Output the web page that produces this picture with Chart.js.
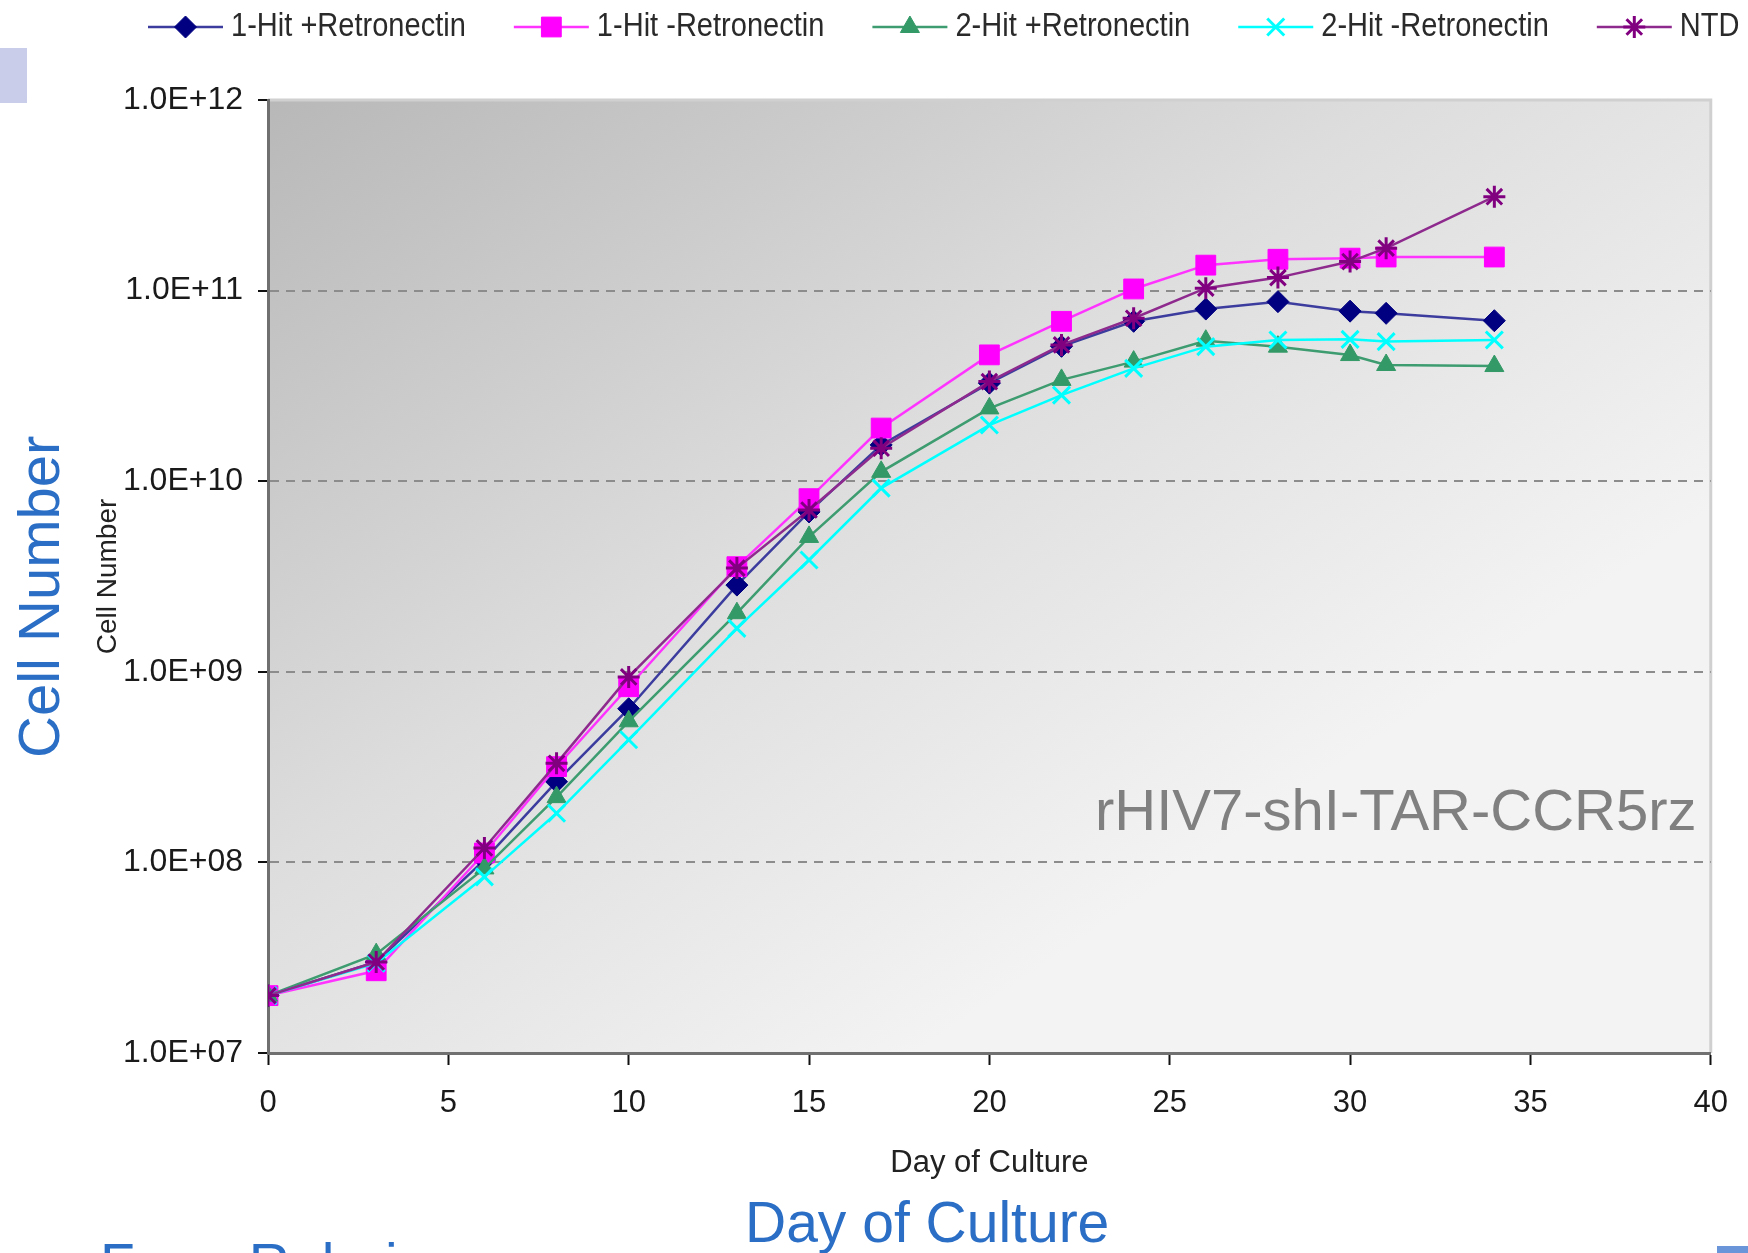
<!DOCTYPE html>
<html>
<head>
<meta charset="utf-8">
<title>Cell expansion by day of culture</title>
<script src="https://cdn.jsdelivr.net/npm/chart.js@4.4.1/dist/chart.umd.min.js"></script>
<style>
  html, body { margin: 0; padding: 0; background: #ffffff; }
  #wrap { position: relative; width: 1748px; height: 1253px; overflow: hidden; background: #ffffff; }
  #chart { position: absolute; left: 0; top: 0; }
  .note { position: absolute; font-family: 'Liberation Sans', Arial, sans-serif; white-space: nowrap; line-height: 1; }
  .blue { color: #2a6ec6; font-size: 57px; }
  #yBig { left: 10px; top: 758px; font-size: 58px; transform-origin: 0 0; transform: rotate(-90deg); }
  #xBig { left: 745px; top: 1194px; }
  #source { left: 100px; top: 1236px; }
  #construct { left: 1095px; top: 781px; font-size: 58px; color: #808080; }
  #tabTop { position: absolute; left: 0; top: 48px; width: 27px; height: 55px; background: #c9cdea; }
  #tabBottom { position: absolute; left: 1717px; top: 1246px; width: 31px; height: 7px; background: #6a95d8; }
</style>
</head>
<body>
<div id="wrap">
  <canvas id="chart" width="1748" height="1253"></canvas>
  <div id="tabTop"></div>
  <div id="tabBottom"></div>
  <div class="note blue" id="yBig">Cell Number</div>
  <div class="note blue" id="xBig">Day of Culture</div>
  <div class="note blue" id="source">From Rebeies</div>
  <div class="note" id="construct">rHIV7-shI-TAR-CCR5rz</div>
</div>
<script>
// Sampling days and total cell counts for each transduction condition
const days = [0, 3, 6, 8, 10, 13, 15, 17, 20, 22, 24, 26, 28, 30, 31, 34];

const oneHitPlusRetronectin  = [2.0e7, 3.0e7, 1.03e8, 2.65e8, 6.4e8, 2.85e9, 6.9e9, 1.55e10, 3.27e10, 5.1e10, 6.9e10, 8.0e10, 8.75e10, 7.8e10, 7.6e10, 6.95e10];
const oneHitMinusRetronectin = [2.0e7, 2.7e7, 1.12e8, 3.18e8, 8.35e8, 3.56e9, 8.1e9, 1.9e10, 4.6e10, 6.9e10, 1.02e11, 1.36e11, 1.46e11, 1.48e11, 1.5e11, 1.5e11];
const twoHitPlusRetronectin  = [2.0e7, 3.3e7, 9.3e7, 2.2e8, 5.5e8, 2.03e9, 5.1e9, 1.12e10, 2.41e10, 3.4e10, 4.24e10, 5.46e10, 5.08e10, 4.59e10, 4.07e10, 4.02e10];
const twoHitMinusRetronectin = [2.0e7, 2.96e7, 8.4e7, 1.81e8, 4.4e8, 1.69e9, 3.86e9, 9.2e9, 1.97e10, 2.83e10, 3.91e10, 5.08e10, 5.51e10, 5.55e10, 5.4e10, 5.51e10];
const ntd                    = [2.0e7, 3.0e7, 1.19e8, 3.31e8, 9.4e8, 3.5e9, 7.06e9, 1.49e10, 3.33e10, 5.19e10, 7.16e10, 1.03e11, 1.17e11, 1.42e11, 1.67e11, 3.11e11];

const seriesNames = ['1-Hit +Retronectin', '1-Hit -Retronectin', '2-Hit +Retronectin', '2-Hit -Retronectin', 'NTD'];

// Axis ticks
const yTickValues = [1e7, 1e8, 1e9, 1e10, 1e11, 1e12];
const xMin = 0, xMax = 40, xStep = 5;

const plainFont = "'Liberation Sans', Arial, sans-serif";

function sciLabel(v) {
  const e = Math.round(Math.log10(v));
  return '1.0E+' + String(e).padStart(2, '0');
}

function points(values) {
  return days.map((d, i) => ({ x: d, y: values[i] }));
}

const styles = [
  { line: '#3c3c9e', mark: '#000080', shape: 'rectRot',  r: 11, bw: 1 },
  { line: '#ff33ff', mark: '#ff00ff', shape: 'rect',     r: 14, bw: 1 },
  { line: '#3d9c70', mark: '#339966', shape: 'triangle', r: 11, bw: 1 },
  { line: '#00ffff', mark: '#00ffff', shape: 'crossRot', r: 12, bw: 3 },
  { line: '#8e2a8e', mark: '#800080', shape: 'star',     r: 11, bw: 3 }
];
const seriesValues = [oneHitPlusRetronectin, oneHitMinusRetronectin, twoHitPlusRetronectin, twoHitMinusRetronectin, ntd];

const datasets = seriesValues.map((vals, i) => ({
  label: seriesNames[i],
  data: points(vals),
  borderColor: styles[i].line,
  borderWidth: 2.5,
  backgroundColor: styles[i].mark,
  pointBackgroundColor: styles[i].mark,
  pointBorderColor: styles[i].mark,
  pointBorderWidth: styles[i].bw,
  pointStyle: styles[i].shape,
  pointRadius: styles[i].r,
  tension: 0,
  fill: false,
  order: seriesValues.length - i
}));

// Shaded plotting area with a light frame on its top and right edges
const plotBackground = {
  id: 'plotBackground',
  beforeDraw(chart) {
    const { ctx, chartArea: a } = chart;
    const g = ctx.createLinearGradient(a.left, a.top, a.left + a.width * 0.45, a.bottom);
    g.addColorStop(0, '#b8b8b8');
    g.addColorStop(0.55, '#dddddd');
    g.addColorStop(1, '#f3f3f3');
    ctx.save();
    ctx.fillStyle = g;
    ctx.fillRect(a.left, a.top, a.width, a.height);
    ctx.strokeStyle = '#d0d0d0';
    ctx.lineWidth = 3;
    ctx.beginPath();
    ctx.moveTo(a.left, a.top);
    ctx.lineTo(a.right, a.top);
    ctx.lineTo(a.right, a.bottom);
    ctx.stroke();
    ctx.restore();
  }
};

// Single-row legend: line sample with the series marker, then the name in a condensed face
const legendRow = {
  id: 'legendRow',
  afterDraw(chart, args, opts) {
    const ctx = chart.ctx;
    ctx.save();
    ctx.font = opts.font;
    ctx.textBaseline = 'middle';
    ctx.textAlign = 'left';
    let x = opts.left;
    const y = opts.y;
    chart.data.datasets.forEach(ds => {
      ctx.strokeStyle = ds.borderColor;
      ctx.lineWidth = 2.5;
      ctx.beginPath();
      ctx.moveTo(x, y);
      ctx.lineTo(x + opts.lineLength, y);
      ctx.stroke();
      ctx.fillStyle = ds.pointBackgroundColor;
      ctx.strokeStyle = ds.pointBorderColor;
      ctx.lineWidth = ds.pointBorderWidth;
      Chart.helpers.drawPoint(ctx, {
        pointStyle: ds.pointStyle, radius: ds.pointRadius, rotation: 0, borderWidth: ds.pointBorderWidth
      }, x + opts.lineLength / 2, y);
      const tx = x + opts.lineLength + opts.textGap;
      ctx.save();
      ctx.translate(tx, y);
      ctx.scale(opts.squeeze, 1);
      ctx.fillStyle = opts.color;
      ctx.fillText(ds.label, 0, 0);
      ctx.restore();
      x = tx + ctx.measureText(ds.label).width * opts.squeeze + opts.itemGap;
    });
    ctx.restore();
  }
};

new Chart(document.getElementById('chart'), {
  type: 'line',
  data: { datasets },
  plugins: [plotBackground, legendRow],
  options: {
    responsive: false,
    animation: false,
    devicePixelRatio: 1,
    layout: { padding: { top: 100, right: 37, left: 0, bottom: 0 } },
    plugins: {
      legend: { display: false },
      tooltip: { enabled: false },
      legendRow: {
        font: '33px ' + plainFont,
        color: '#2a2a2a',
        squeeze: 0.88,
        left: 148, y: 27, lineLength: 75, textGap: 8, itemGap: 48
      }
    },
    scales: {
      x: {
        type: 'linear', min: xMin, max: xMax,
        ticks: { stepSize: xStep, font: { family: plainFont, size: 31 }, color: '#1a1a1a', padding: 20, maxRotation: 0 },
        grid: { drawOnChartArea: false, drawTicks: true, tickLength: 12, tickColor: '#111111', tickWidth: 2 },
        border: { color: '#707070', width: 3 },
        title: { display: true, text: 'Day of Culture', font: { family: plainFont, size: 31 }, color: '#222222', padding: { top: 0, bottom: 71 } },
        afterFit(scale) { scale.height = 200; }
      },
      y: {
        type: 'logarithmic', min: yTickValues[0], max: yTickValues[yTickValues.length - 1],
        afterBuildTicks(scale) { scale.ticks = yTickValues.map(v => ({ value: v })); },
        ticks: { callback: v => sciLabel(v), font: { family: plainFont, size: 32 }, color: '#1a1a1a', padding: 15 },
        grid: {
          color: c => (c.index === 0 || c.index === yTickValues.length - 1) ? 'rgba(0,0,0,0)' : '#8c8c8c',
          lineWidth: 2, drawTicks: true, tickLength: 10, tickColor: '#111111', tickWidth: 2
        },
        border: { color: '#707070', width: 3, dash: [9, 7] },
        title: { display: true, text: 'Cell Number', font: { family: plainFont, size: 28 }, color: '#222222', padding: { top: 91, bottom: 0 } },
        afterFit(scale) { scale.width = 268; }
      }
    }
  }
});
</script>
</body>
</html>
